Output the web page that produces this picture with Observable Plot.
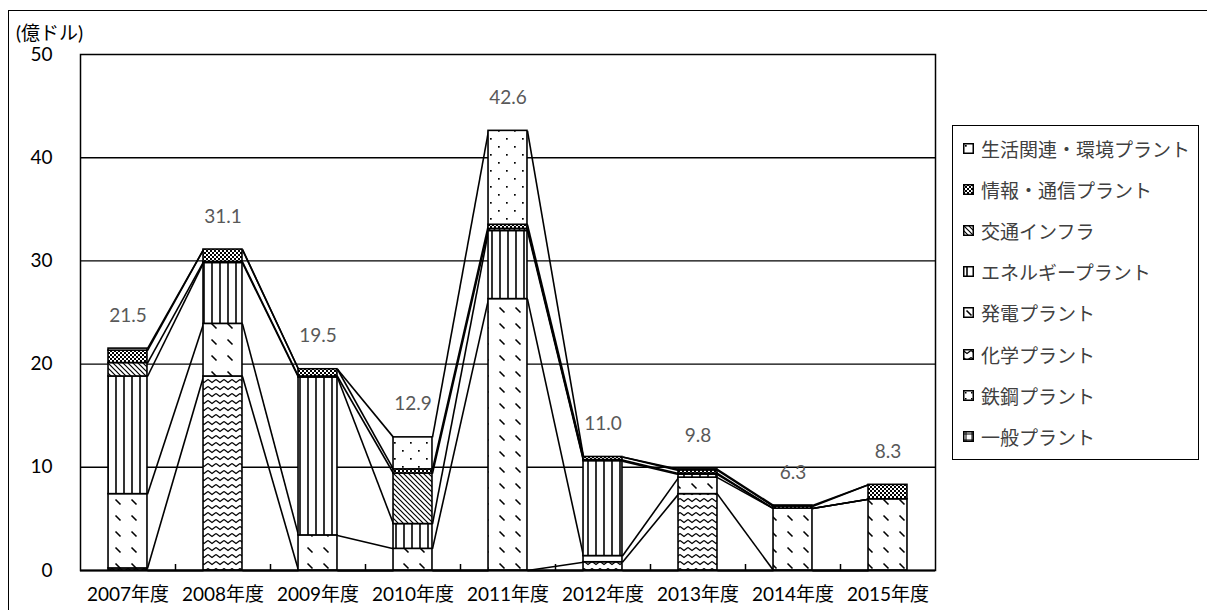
<!DOCTYPE html>
<html>
<head>
<meta charset="utf-8">
<script src="https://cdn.jsdelivr.net/npm/d3@7"></script>
<script src="https://cdn.jsdelivr.net/npm/@observablehq/plot@0.6"></script>
<style>
  html, body { margin: 0; padding: 0; background: #fff; }
  #wrap { position: relative; width: 1207px; height: 610px; overflow: hidden; background: #fff;
          font-family: Lato, "Noto Sans CJK JP", sans-serif; }
  #outer { position: absolute; left: 8px; top: 10px; width: 1220px; height: 640px; border: 1.5px solid #000; box-sizing: border-box; }
  #unit { position: absolute; left: 16px; top: 23px; font-size: 19px; line-height: 19px; height: 19px; color: #000; }
  #legend { position: absolute; left: 952px; top: 125px; width: 247px; height: 335px; border: 1.5px solid #000;
            box-sizing: border-box; background: #fff; }
  .item { position: absolute; left: 10px; height: 24px; display: flex; align-items: center; font-size: 19px; color: #404040; white-space: nowrap; }
  .item svg { margin-right: 7px; }
  #chart { position: absolute; left: 0; top: 0; }
</style>
</head>
<body>
<div id="wrap">
  <div id="outer"></div>
  <div id="chart"></div>
  <div id="unit">(億ドル)</div>
  <div id="legend"></div>
</div>
<script>
// ---- data ----
const years = ["2007年度","2008年度","2009年度","2010年度","2011年度","2012年度","2013年度","2014年度","2015年度"];
// series from bottom of stack to top
const seriesNames = ["一般プラント","鉄鋼プラント","化学プラント","発電プラント","エネルギープラント","交通インフラ","情報・通信プラント","生活関連・環境プラント"];
const ippan    = [0, 0, 0, 0, 0, 0, 0, 0, 0];
const tekko    = [0, 0, 0, 0, 0, 0, 0, 0, 0];
const kagaku   = [0.2, 18.8, 0, 0, 0, 0.8, 7.4, 0, 0];
const hatsuden = [7.2, 5.1, 3.4, 2.1, 26.3, 0.6, 1.6, 6.0, 6.9];
const energy   = [11.4, 5.9, 15.3, 2.4, 6.6, 9.2, 0.3, 0, 0];
const kotsu    = [1.3, 0.1, 0.1, 4.9, 0.2, 0.1, 0.1, 0, 0];
const joho     = [1.2, 1.2, 0.7, 0.4, 0.4, 0.3, 0.3, 0.2, 1.4];
const seikatsu = [0.2, 0, 0, 3.1, 9.1, 0, 0.1, 0.1, 0];
const seriesValues = [ippan, tekko, kagaku, hatsuden, energy, kotsu, joho, seikatsu];
const yTicks = [0, 10, 20, 30, 40, 50];

// ---- derived ----
const hw = 0.205; // half bar width (in band units)
const patIds = ["p-ippan","p-tekko","p-kagaku","p-hatsuden","p-energy","p-kotsu","p-joho","p-seikatsu"];
const segs = [];
const tops = seriesValues.map(() => []);
years.forEach((yr, i) => {
  let base = 0;
  seriesValues.forEach((vals, k) => {
    const v = vals[i];
    segs.push({k, i, y1: base, y2: base + v, v});
    base += v;
    tops[k].push(base);
  });
});
const totals = years.map((_, i) => d3.sum(seriesValues, s => s[i]));
const links = [];
seriesValues.forEach((_, k) => {
  for (let i = 0; i < years.length - 1; i++) {
    links.push({x1: i + hw, x2: i + 1 - hw, y1: tops[k][i], y2: tops[k][i + 1]});
  }
});

const barMarks = seriesValues.map((_, k) =>
  Plot.rect(segs.filter(d => d.k === k && d.v > 0), {
    x1: d => d.i - hw, x2: d => d.i + hw, y1: "y1", y2: "y2",
    fill: `url(#${patIds[k]})`, stroke: "#000", strokeWidth: 1.6
  })
);

const chart = Plot.plot({
  width: 1207, height: 610,
  marginLeft: 80, marginRight: 272, marginTop: 54, marginBottom: 40,
  style: {fontFamily: 'Lato, "Noto Sans CJK JP", sans-serif', background: "transparent"},
  x: {type: "linear", domain: [-0.5, years.length - 0.5]},
  y: {domain: [0, 50]},
  marks: [
    Plot.gridY(yTicks.slice(1, -1), {stroke: "#000", strokeOpacity: 1, strokeWidth: 1.4}),
    Plot.link(links, {x1: "x1", x2: "x2", y1: "y1", y2: "y2", stroke: "#000", strokeWidth: 1.6}),
    ...barMarks,
    Plot.text(years.map((_, i) => i), {x: i => i, y: i => totals[i], text: i => totals[i].toFixed(1),
      dy: -33, fill: "#595959", fontSize: 19}),
    Plot.frame({stroke: "#000", strokeWidth: 1.5}),
    Plot.ruleY([0], {stroke: "#000", strokeWidth: 2.2}),
    Plot.axisY({ticks: yTicks, tickSize: 0, tickPadding: 28, fontSize: 19, color: "#000", label: null}),
    Plot.axisX({ticks: d3.range(years.length), tickSize: 0, tickPadding: 17, fontSize: 19,
      tickFormat: i => years[i], label: null}),
    Plot.axisX({ticks: d3.range(years.length - 1).map(i => i + 0.5), tickSize: -6, tickFormat: () => "",
      label: null, strokeWidth: 1.5})
  ]
});
document.getElementById("chart").appendChild(chart);

// ---- patterns ----
const svg = d3.select(chart);
const defs = svg.insert("defs", ":first-child");
function pat(id, w, h, draw) {
  const p = defs.append("pattern").attr("id", id).attr("patternUnits", "userSpaceOnUse")
    .attr("width", w).attr("height", h);
  p.append("rect").attr("width", w).attr("height", h).attr("fill", "#fff");
  draw(p);
}
pat("p-ippan", 6, 6, p => p.append("path").attr("d", "M3,0V6M0,3H6").attr("stroke", "#000").attr("stroke-width", 1));
pat("p-tekko", 6, 6, p => p.append("rect").attr("x", 2).attr("y", 2).attr("width", 1.5).attr("height", 1.5).attr("fill", "#000"));
pat("p-kagaku", 8, 7, p => p.append("path").attr("d", "M0,1.5L4,4.5L8,1.5").attr("fill", "none").attr("stroke", "#000").attr("stroke-width", 1.3));
pat("p-hatsuden", 16, 16, p => p.append("path").attr("d", "M3.5,3.5L8.5,8.5").attr("stroke", "#000").attr("stroke-width", 1.6));
pat("p-energy", 8, 8, p => p.append("path").attr("d", "M4,0V8").attr("stroke", "#000").attr("stroke-width", 1.6));
pat("p-kotsu", 5, 5, p => p.append("path").attr("d", "M0,0L5,5M-1,4L1,6M4,-1L6,1").attr("stroke", "#000").attr("stroke-width", 1.2));
pat("p-joho", 4, 4, p => { p.append("rect").attr("width", 2).attr("height", 2).attr("fill", "#000");
  p.append("rect").attr("x", 2).attr("y", 2).attr("width", 2).attr("height", 2).attr("fill", "#000"); });
pat("p-seikatsu", 16, 16, p => { p.append("rect").attr("x", 2).attr("y", 2).attr("width", 1.7).attr("height", 1.7).attr("fill", "#000");
  p.append("rect").attr("x", 10).attr("y", 10).attr("width", 1.7).attr("height", 1.7).attr("fill", "#000"); });

// ---- legend (top of stack first) ----
const legend = d3.select("#legend");
const order = d3.range(seriesNames.length).reverse();
order.forEach((k, j) => {
  const it = legend.append("div").attr("class", "item").style("top", (10 + j * 41.2) + "px");
  const s = it.append("svg").attr("width", 11).attr("height", 11);
  s.append("rect").attr("x", 0.75).attr("y", 0.75).attr("width", 9.5).attr("height", 9.5)
    .attr("fill", `url(#${patIds[k]})`).attr("stroke", "#000").attr("stroke-width", 1.5);
  it.append("span").text(seriesNames[k]);
});
</script>
</body>
</html>
